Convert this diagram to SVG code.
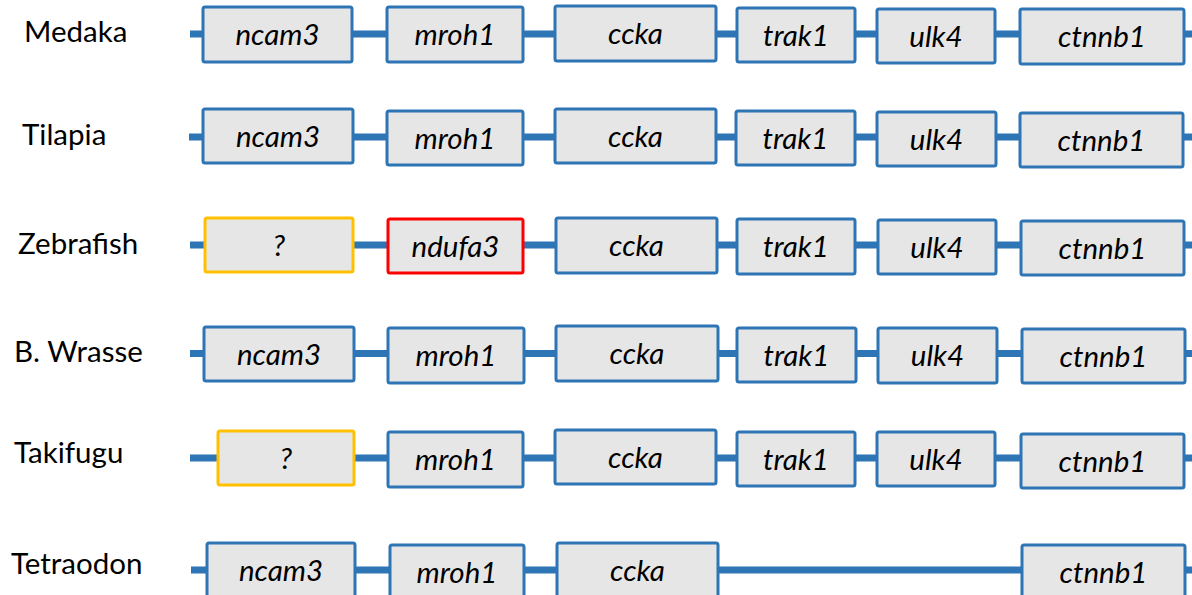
<svg xmlns="http://www.w3.org/2000/svg" width="1192" height="595" viewBox="0 0 1192 595">
<style>
.bg{fill:#ffffff}
.ln{stroke:#2E75B6;stroke-width:7;fill:none}
.box{fill:#E7E6E6;stroke:#2E75B6;stroke-width:3}
.yel{fill:#E7E6E6;stroke:#FFC000;stroke-width:3}
.red{fill:#E7E6E6;stroke:#FF0000;stroke-width:3}
.gene{font-family:Lato,"Liberation Sans",sans-serif;font-style:italic;font-size:29.5px;fill:#000;text-anchor:middle}
.sp{font-family:Lato,"Liberation Sans",sans-serif;font-size:29.5px;fill:#000}
</style>
<rect class="bg" x="0" y="0" width="1192" height="595"/>
<g id="connectors">
<path class="ln" d="M190 34H203M352 34H387M523 34H555M716 34H737M855 34H877M995 34H1020M1184 34H1192"/>
<path class="ln" d="M189 137H203M353 137H387M523 137H555M716 137H736M855 137H877M996 137H1020M1183 137H1192"/>
<path class="ln" d="M190 245H205M353 245H388M523 245H556M717 245H737M855 245H878M996 245H1021M1184 245H1192"/>
<path class="ln" d="M190 353.5H204M354 353.5H388M524 353.5H556M718 353.5H737M856 353.5H878M997 353.5H1022M1185 353.5H1192"/>
<path class="ln" d="M190 458H218M354 458H388M523 458H555M716 458H737M855 458H877M995 458H1021M1184 458H1192"/>
<path class="ln" d="M191 570H207M355 570H390M524 570H557M718 570H1022M1185 570H1192"/>
</g>
<g id="labels">
<text id="lbl-medaka" class="sp" x="24" y="42">Medaka</text>
<text id="lbl-tilapia" class="sp" x="22" y="145">Tilapia</text>
<text id="lbl-zebrafish" class="sp" x="18" y="254">Zebrafish</text>
<text id="lbl-wrasse" class="sp" x="14" y="362">B. Wrasse</text>
<text id="lbl-takifugu" class="sp" x="14" y="463">Takifugu</text>
<text id="lbl-tetraodon" class="sp" x="11" y="574">Tetraodon</text>
</g>
<g id="row-medaka">
<g id="m-ncam3"><rect class="box" x="203" y="7" width="149" height="55" rx="2"/><text class="gene" x="277.5" y="45">ncam3</text></g>
<g id="m-mroh1"><rect class="box" x="387" y="7" width="136" height="55" rx="2"/><text class="gene" x="455" y="45">mroh1</text></g>
<g id="m-ccka"><rect class="box" x="555" y="6" width="161" height="55" rx="2"/><text class="gene" x="635.5" y="44">ccka</text></g>
<g id="m-trak1"><rect class="box" x="737" y="8" width="118" height="54" rx="2"/><text class="gene" x="796" y="45.5">trak1</text></g>
<g id="m-ulk4"><rect class="box" x="877" y="9" width="118" height="54" rx="2"/><text class="gene" x="936" y="46.5">ulk4</text></g>
<g id="m-ctnnb1"><rect class="box" x="1020" y="9" width="164" height="55" rx="2"/><text class="gene" x="1102" y="47">ctnnb1</text></g>
</g>
<g id="row-tilapia">
<g id="t-ncam3"><rect class="box" x="203" y="109" width="150" height="54" rx="2"/><text class="gene" x="278" y="146.5">ncam3</text></g>
<g id="t-mroh1"><rect class="box" x="387" y="111" width="136" height="54" rx="2"/><text class="gene" x="455" y="148.5">mroh1</text></g>
<g id="t-ccka"><rect class="box" x="555" y="109" width="161" height="54" rx="2"/><text class="gene" x="635.5" y="146.5">ccka</text></g>
<g id="t-trak1"><rect class="box" x="736" y="111" width="119" height="54" rx="2"/><text class="gene" x="795.5" y="148.5">trak1</text></g>
<g id="t-ulk4"><rect class="box" x="877" y="112" width="119" height="54" rx="2"/><text class="gene" x="936.5" y="149.5">ulk4</text></g>
<g id="t-ctnnb1"><rect class="box" x="1020" y="113" width="163" height="54" rx="2"/><text class="gene" x="1101.5" y="150.5">ctnnb1</text></g>
</g>
<g id="row-zebrafish">
<g id="z-unknown"><rect class="yel" x="205" y="218" width="148" height="54" rx="2"/><text class="gene" x="279" y="255.5">?</text></g>
<g id="z-ndufa3"><rect class="red" x="388" y="219" width="135" height="54" rx="2"/><text class="gene" x="455.5" y="256.5">ndufa3</text></g>
<g id="z-ccka"><rect class="box" x="556" y="218" width="161" height="55" rx="2"/><text class="gene" x="636.5" y="256">ccka</text></g>
<g id="z-trak1"><rect class="box" x="737" y="219" width="118" height="55" rx="2"/><text class="gene" x="796" y="257">trak1</text></g>
<g id="z-ulk4"><rect class="box" x="878" y="220" width="118" height="54" rx="2"/><text class="gene" x="937" y="257.5">ulk4</text></g>
<g id="z-ctnnb1"><rect class="box" x="1021" y="221" width="163" height="54" rx="2"/><text class="gene" x="1102.5" y="258.5">ctnnb1</text></g>
</g>
<g id="row-wrasse">
<g id="w-ncam3"><rect class="box" x="204" y="327" width="150" height="54" rx="2"/><text class="gene" x="279" y="364.5">ncam3</text></g>
<g id="w-mroh1"><rect class="box" x="388" y="328" width="136" height="55" rx="2"/><text class="gene" x="456" y="366">mroh1</text></g>
<g id="w-ccka"><rect class="box" x="556" y="326" width="162" height="55" rx="2"/><text class="gene" x="637" y="364">ccka</text></g>
<g id="w-trak1"><rect class="box" x="737" y="328" width="119" height="54" rx="2"/><text class="gene" x="796.5" y="365.5">trak1</text></g>
<g id="w-ulk4"><rect class="box" x="878" y="328" width="119" height="55" rx="2"/><text class="gene" x="937.5" y="366">ulk4</text></g>
<g id="w-ctnnb1"><rect class="box" x="1022" y="329" width="163" height="54" rx="2"/><text class="gene" x="1103.5" y="366.5">ctnnb1</text></g>
</g>
<g id="row-takifugu">
<g id="f-unknown"><rect class="yel" x="218" y="431" width="136" height="54" rx="2"/><text class="gene" x="286" y="468.5">?</text></g>
<g id="f-mroh1"><rect class="box" x="388" y="432" width="135" height="55" rx="2"/><text class="gene" x="455.5" y="470">mroh1</text></g>
<g id="f-ccka"><rect class="box" x="555" y="430" width="161" height="54" rx="2"/><text class="gene" x="635.5" y="467.5">ccka</text></g>
<g id="f-trak1"><rect class="box" x="737" y="432" width="118" height="54" rx="2"/><text class="gene" x="796" y="469.5">trak1</text></g>
<g id="f-ulk4"><rect class="box" x="877" y="432" width="118" height="54" rx="2"/><text class="gene" x="936" y="469.5">ulk4</text></g>
<g id="f-ctnnb1"><rect class="box" x="1021" y="434" width="163" height="54" rx="2"/><text class="gene" x="1102.5" y="471.5">ctnnb1</text></g>
</g>
<g id="row-tetraodon">
<g id="x-ncam3"><rect class="box" x="207" y="543" width="148" height="56" rx="2"/><text class="gene" x="281" y="581">ncam3</text></g>
<g id="x-mroh1"><rect class="box" x="390" y="545" width="134" height="56" rx="2"/><text class="gene" x="457" y="583">mroh1</text></g>
<g id="x-ccka"><rect class="box" x="557" y="543" width="161" height="56" rx="2"/><text class="gene" x="637.5" y="581">ccka</text></g>
<g id="x-ctnnb1"><rect class="box" x="1022" y="545" width="163" height="56" rx="2"/><text class="gene" x="1103.5" y="583">ctnnb1</text></g>
</g>
</svg>
